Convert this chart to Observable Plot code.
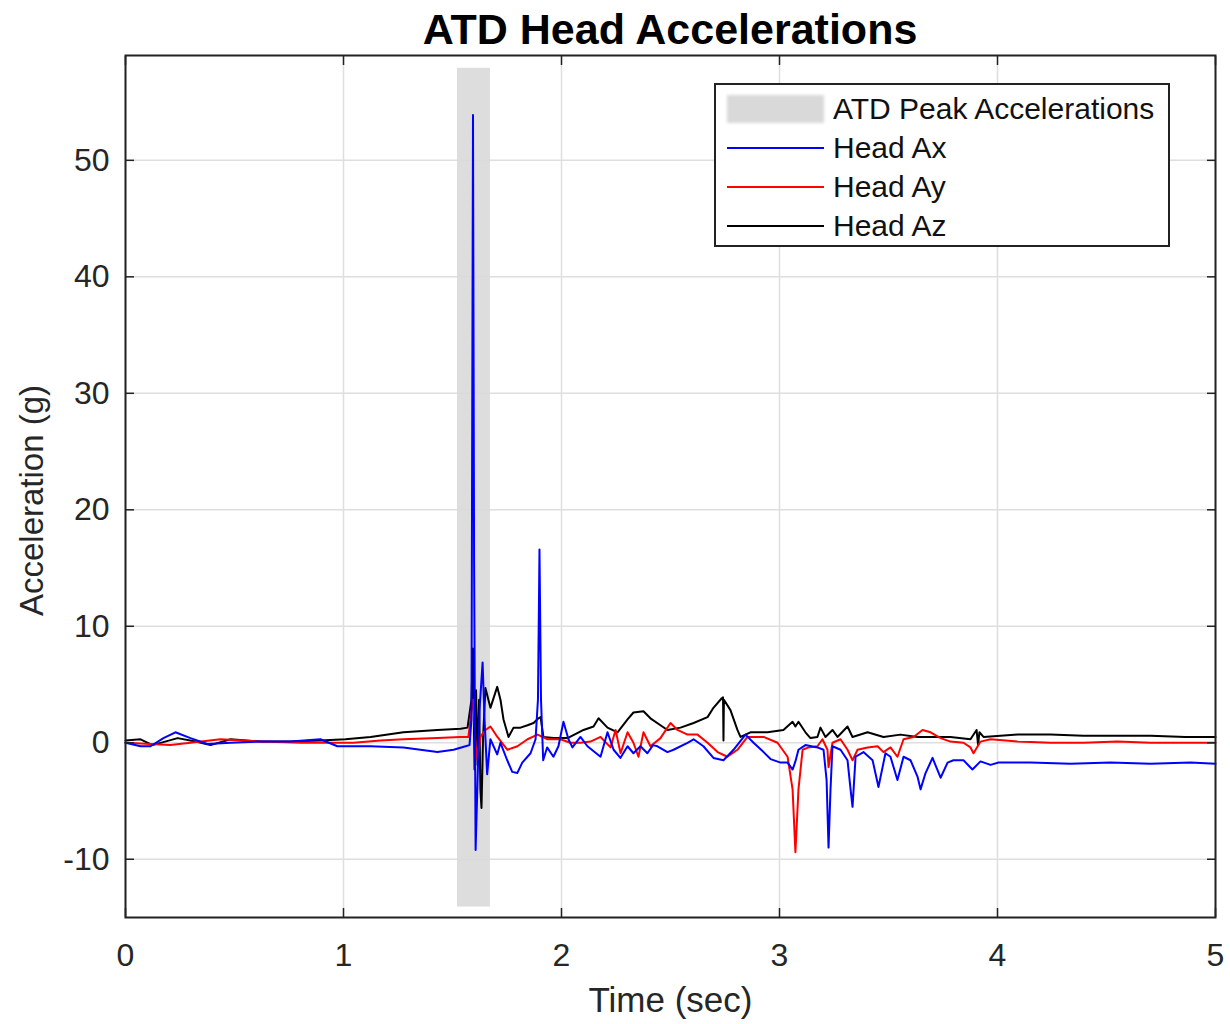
<!DOCTYPE html>
<html>
<head>
<meta charset="utf-8">
<script src="https://cdn.jsdelivr.net/npm/d3@7"></script>
<script src="https://cdn.jsdelivr.net/npm/@observablehq/plot@0.6"></script>
<style>
  body { margin: 0; background: #fff; font-family: "Liberation Sans", Arial, Helvetica, sans-serif; }
  #wrap { position: relative; width: 1230px; height: 1024px; overflow: hidden; background: #fff; }
  #title { position: absolute; left: 120px; top: 2px; width: 1100px; height: 55px; line-height: 55px; text-align: center;
           font-weight: bold; font-size: 43px; color: #000; }
  #chart { position: absolute; left: 0; top: 50px; }
  #legend { position: absolute; left: 714px; top: 83px; width: 452px; height: 160px; border: 2px solid #222; background: #fff; }
  .row { position: absolute; left: 0; height: 40px; width: 100%; }
  .sw { position: absolute; left: 11px; width: 97px; }
  .lab { position: absolute; left: 117px; top: 0; height: 40px; line-height: 40px; font-size: 30px; color: #111; white-space: nowrap; }
</style>
</head>
<body>
<div id="wrap">
  <div id="title"></div>
  <div id="chart"></div>
  <div id="legend"></div>
</div>
<script>
// ---- Text ----
const titleText = "ATD Head Accelerations";
const xLabel = "Time (sec)";
const yLabel = "Acceleration (g)";
const bandLabel = "ATD Peak Accelerations";
const seriesNames = ["Head Ax", "Head Ay", "Head Az"];
const seriesColors = ["#0000ff", "#ff0000", "#000000"];

// ---- Ticks ----
const xTicks = [0, 1, 2, 3, 4, 5];
const yTicks = [-10, 0, 10, 20, 30, 40, 50];
const xDomain = [0, 5];
const yDomain = [-15, 59];

// ---- Peak window (gray band) ----
const peakStart = [1.523];
const peakEnd = [1.674];
const peakLow = [-14.1];
const peakHigh = [57.9];

// ---- Head Ax (blue) ----
const axTime = [0.000,0.069,0.115,0.174,0.229,0.298,0.376,0.482,0.619,0.757,0.894,0.972,1.124,1.275,1.431,1.505,1.560,1.578,1.587,1.594,1.599,1.606,1.615,1.624,1.638,1.647,1.659,1.674,1.705,1.720,1.751,1.774,1.797,1.820,1.858,1.881,1.892,1.899,1.906,1.916,1.934,1.963,1.986,2.009,2.032,2.050,2.087,2.119,2.179,2.211,2.239,2.270,2.303,2.330,2.362,2.394,2.420,2.440,2.486,2.514,2.578,2.606,2.651,2.697,2.743,2.789,2.844,2.881,2.927,2.959,3.005,3.037,3.060,3.073,3.087,3.119,3.174,3.202,3.216,3.225,3.234,3.243,3.280,3.312,3.326,3.335,3.349,3.385,3.427,3.454,3.486,3.509,3.541,3.569,3.601,3.633,3.647,3.670,3.702,3.739,3.771,3.798,3.844,3.885,3.922,3.968,4.005,4.151,4.335,4.518,4.702,4.885,5.000];
const axValue = [0.0,-0.3,-0.3,0.4,0.9,0.4,-0.1,0.0,0.1,0.1,0.3,-0.3,-0.3,-0.4,-0.8,-0.6,-0.3,-0.2,2.0,53.9,15.7,-9.2,-3.2,2.8,6.9,2.0,-2.7,0.3,-1.0,0.0,-1.5,-2.5,-2.6,-1.7,-0.9,0.3,3.7,16.6,3.7,-1.5,-0.4,-1.2,-0.3,1.8,0.3,-0.4,0.5,-0.3,-1.2,0.9,-0.6,-1.3,-0.3,-0.9,-0.3,-0.9,-0.2,-0.3,-0.8,-0.6,0.0,0.3,-0.3,-1.3,-1.5,-0.6,0.7,0.0,-0.8,-1.4,-1.7,-1.7,-2.3,-1.6,-0.6,-0.2,-0.4,-0.6,-3.2,-9.0,-4.0,-0.3,-0.6,-1.5,-4.0,-5.5,-1.2,-0.8,-1.5,-3.8,-0.9,-1.2,-3.2,-1.2,-1.5,-2.9,-4.0,-2.6,-1.3,-3.0,-1.7,-1.5,-1.5,-2.3,-1.6,-1.9,-1.7,-1.7,-1.8,-1.7,-1.8,-1.7,-1.8];

// ---- Head Ay (red) ----
const ayTime = [0.000,0.115,0.206,0.298,0.436,0.619,0.803,1.046,1.170,1.275,1.431,1.537,1.573,1.587,1.596,1.606,1.615,1.628,1.651,1.674,1.706,1.752,1.798,1.844,1.890,1.936,1.995,2.041,2.087,2.133,2.179,2.225,2.248,2.271,2.303,2.330,2.353,2.376,2.408,2.454,2.500,2.532,2.578,2.624,2.670,2.716,2.761,2.807,2.853,2.927,2.991,3.037,3.060,3.073,3.087,3.106,3.133,3.174,3.197,3.220,3.225,3.243,3.280,3.312,3.335,3.358,3.404,3.450,3.477,3.509,3.541,3.569,3.615,3.656,3.693,3.739,3.784,3.844,3.876,3.890,3.922,3.968,4.092,4.243,4.394,4.550,4.702,4.862,5.000];
const ayValue = [0.0,-0.1,-0.2,0.0,0.3,0.1,0.0,0.0,0.2,0.3,0.4,0.5,0.5,2.7,3.7,-0.2,-1.5,0.5,1.1,1.4,0.5,-0.6,-0.3,0.3,0.7,0.3,0.3,0.0,0.0,0.1,0.5,-0.4,1.1,-0.9,0.9,0.0,-1.2,0.9,-0.3,0.4,1.7,1.1,0.7,0.7,0.0,-0.8,-1.2,-0.6,0.5,0.5,0.0,-1.2,-4.0,-9.4,-4.0,-0.6,-0.4,-0.3,0.3,-0.6,-2.1,0.0,0.3,-0.6,-1.5,-0.6,-0.4,-0.3,-0.8,-0.4,-1.2,0.3,0.5,1.1,0.9,0.4,0.1,0.0,-0.4,-0.9,0.1,0.3,0.1,0.0,0.0,0.1,0.0,0.0,0.0];

// ---- Head Az (black) ----
const azTime = [0.000,0.069,0.124,0.239,0.321,0.390,0.482,0.619,0.757,0.894,1.009,1.124,1.275,1.431,1.537,1.569,1.587,1.594,1.601,1.608,1.615,1.622,1.628,1.633,1.640,1.651,1.674,1.705,1.720,1.734,1.757,1.780,1.812,1.844,1.872,1.894,1.904,1.917,1.963,2.028,2.101,2.147,2.170,2.211,2.257,2.303,2.330,2.376,2.408,2.454,2.486,2.546,2.606,2.670,2.697,2.734,2.741,2.743,2.745,2.775,2.807,2.821,2.867,2.945,3.018,3.060,3.073,3.087,3.119,3.142,3.174,3.188,3.211,3.243,3.266,3.312,3.335,3.404,3.477,3.555,3.633,3.725,3.784,3.876,3.904,3.911,3.917,3.936,4.092,4.243,4.394,4.550,4.702,4.862,5.000];
const azValue = [0.2,0.3,-0.2,0.4,0.1,-0.2,0.3,0.1,0.1,0.2,0.3,0.5,0.9,1.1,1.2,1.3,3.7,8.1,-2.3,4.5,-1.9,3.7,-4.0,-5.6,0.3,4.7,3.0,4.8,3.7,2.0,0.5,1.3,1.3,1.5,1.7,2.1,2.2,0.5,0.4,0.4,1.1,1.4,2.1,1.3,0.9,2.0,2.6,2.7,2.1,1.5,1.1,1.3,1.7,2.2,3.0,3.8,3.9,0.2,3.7,2.8,1.1,0.5,0.9,0.9,1.1,1.8,1.4,1.8,0.9,0.4,0.5,1.3,0.5,1.1,0.5,1.4,0.5,0.9,0.5,0.7,0.5,0.5,0.5,0.3,1.1,-0.2,0.9,0.5,0.7,0.7,0.6,0.6,0.6,0.5,0.5];

// ---- Build tables ----
const toRows = (ts, vs, name) => ts.map((t, i) => ({ t, v: vs[i], series: name }));
const series = [
  toRows(axTime, axValue, seriesNames[0]),
  toRows(ayTime, ayValue, seriesNames[1]),
  toRows(azTime, azValue, seriesNames[2])
];
const band = peakStart.map((s, i) => ({ x1: s, x2: peakEnd[i], y1: peakLow[i], y2: peakHigh[i] }));

document.getElementById("title").textContent = titleText;

const font = "Liberation Sans, Arial, Helvetica, sans-serif";
const fmt = (d) => String(d);
const TS = 9; // inward tick length (px)
const plot = Plot.plot({
  width: 1230,
  height: 974,
  marginLeft: 125,
  marginRight: 15,
  marginTop: 5,
  marginBottom: 107,
  style: { fontFamily: font, background: "white", color: "#262626" },
  x: { domain: xDomain, label: null },
  y: { domain: yDomain, label: null },
  marks: [
    Plot.gridX(xTicks, { stroke: "#dedede", strokeOpacity: 1, strokeWidth: 1.5 }),
    Plot.gridY(yTicks, { stroke: "#dedede", strokeOpacity: 1, strokeWidth: 1.5 }),
    Plot.rect(band, { x1: "x1", x2: "x2", y1: "y1", y2: "y2", fill: "#d9d9d9", fillOpacity: 0.9 }),
    Plot.line(series[2], { x: "t", y: "v", stroke: seriesColors[2], strokeWidth: 2 }),
    Plot.line(series[1], { x: "t", y: "v", stroke: seriesColors[1], strokeWidth: 2 }),
    Plot.line(series[0], { x: "t", y: "v", stroke: seriesColors[0], strokeWidth: 2 }),
    Plot.frame({ stroke: "#222", strokeWidth: 2 }),
    // inward tick marks on all four sides (outward ticks shifted inside the frame)
    Plot.axisX(xTicks, { anchor: "bottom", tickSize: TS, dy: -TS, tickFormat: () => "", label: null, stroke: "#222", strokeWidth: 1.5 }),
    Plot.axisX(xTicks, { anchor: "top", tickSize: TS, dy: TS, tickFormat: () => "", label: null, stroke: "#222", strokeWidth: 1.5 }),
    Plot.axisY(yTicks, { anchor: "left", tickSize: TS, dx: TS, tickFormat: () => "", label: null, stroke: "#222", strokeWidth: 1.5 }),
    Plot.axisY(yTicks, { anchor: "right", tickSize: TS, dx: -TS, tickFormat: () => "", label: null, stroke: "#222", strokeWidth: 1.5 }),
    // tick labels
    Plot.axisX(xTicks, { anchor: "bottom", tickSize: 0, tickPadding: 26, fontSize: 32, tickFormat: fmt, label: null, fill: "#262626" }),
    Plot.axisY(yTicks, { anchor: "left", tickSize: 0, tickPadding: 16, fontSize: 32, tickFormat: fmt, label: null, fill: "#262626" }),
    // axis titles
    Plot.text([xLabel], { frameAnchor: "bottom", dy: 83, fontSize: 35, fill: "#262626", lineAnchor: "middle", textAnchor: "middle" }),
    Plot.text([yLabel], { frameAnchor: "left", rotate: -90, dx: -93, dy: 14, fontSize: 33, fill: "#262626", lineAnchor: "middle", textAnchor: "middle" })
  ]
});
document.getElementById("chart").appendChild(plot);

// ---- Legend ----
const legend = document.getElementById("legend");
const rowCenters = [24, 63, 102, 141];
const entries = [{ label: bandLabel, type: "band" }].concat(
  seriesNames.map((n, i) => ({ label: n, type: "line", color: seriesColors[i] }))
);
entries.forEach((e, i) => {
  const row = document.createElement("div");
  row.className = "row";
  row.style.top = (rowCenters[i] - 20) + "px";
  const sw = document.createElement("div");
  sw.className = "sw";
  if (e.type === "band") {
    sw.style.top = "6px"; sw.style.height = "28px"; sw.style.background = "#d9d9d9";
    sw.style.filter = "blur(1.5px)";
  } else {
    sw.style.top = "19px"; sw.style.height = "2px"; sw.style.background = e.color;
  }
  const lab = document.createElement("div");
  lab.className = "lab";
  lab.textContent = e.label;
  row.appendChild(sw); row.appendChild(lab);
  legend.appendChild(row);
});
</script>
</body>
</html>
